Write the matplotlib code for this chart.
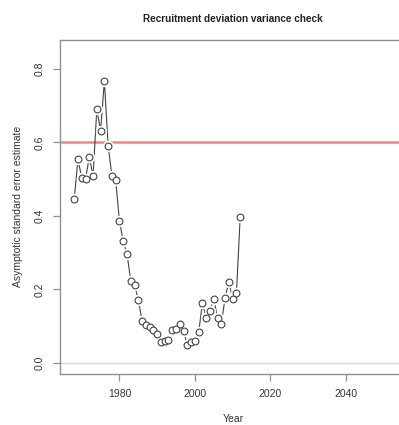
import matplotlib
matplotlib.use("Agg")
import matplotlib.pyplot as plt

years = list(range(1968, 2013))
se = [0.445, 0.554, 0.504, 0.500, 0.560, 0.509, 0.691, 0.632, 0.768, 0.591,
      0.510, 0.497, 0.386, 0.332, 0.297, 0.223, 0.213, 0.172, 0.114, 0.103,
      0.097, 0.090, 0.078, 0.058, 0.059, 0.063, 0.089, 0.093, 0.107, 0.086,
      0.050, 0.057, 0.059, 0.084, 0.163, 0.121, 0.142, 0.175, 0.122, 0.105,
      0.177, 0.221, 0.174, 0.189, 0.396]
ref_level = 0.6
xticks = [1980, 2000, 2020, 2040]
yticks = [0.0, 0.2, 0.4, 0.6, 0.8]

plt.rcParams['font.family'] = ['Liberation Sans', 'DejaVu Sans']

fig = plt.figure(figsize=(3.99, 4.25), dpi=100)
ax = fig.add_axes([0.150, 0.121, 0.867, 0.785])

ax.axhline(0, color='#d8d8d8', lw=1, zorder=1)
ax.axhline(ref_level, color='#ff8080', lw=1.8, zorder=1)

# R type="b": line with gaps around the points
ax.plot(years, se, color='#444444', lw=0.8, zorder=2)
ax.plot(years, se, ls='none', marker='o', ms=7.2, mfc='white', mec='white', zorder=3)
ax.plot(years, se, ls='none', marker='o', ms=4.9, mfc='white', mec='#444444',
        mew=0.8, zorder=4)

ax.set_xlim(1964.2, 2055.9)
ax.set_ylim(-0.029, 0.879)
ax.set_xticks(xticks)
ax.set_yticks(yticks)
ax.set_yticklabels([f"{v:.1f}" for v in yticks], rotation=90, va='center')

for s in ax.spines.values():
    s.set_color('#909090')
    s.set_linewidth(1.0)
ax.tick_params(colors='#909090', labelcolor='#333333', labelsize=7.5,
               length=5, width=0.9, direction='out')
ax.tick_params(axis='x', pad=6)
ax.tick_params(axis='y', pad=6)

ax.set_xlabel('Year', fontsize=7.5, color='#333333', labelpad=11)
ax.set_ylabel('Asymptotic standard error estimate', fontsize=7.5,
              color='#333333', labelpad=8)
ax.set_title('Recruitment deviation variance check', fontsize=7.2,
             fontweight='bold', color='#222222', pad=13)

fig.savefig('out.png', dpi=100)
